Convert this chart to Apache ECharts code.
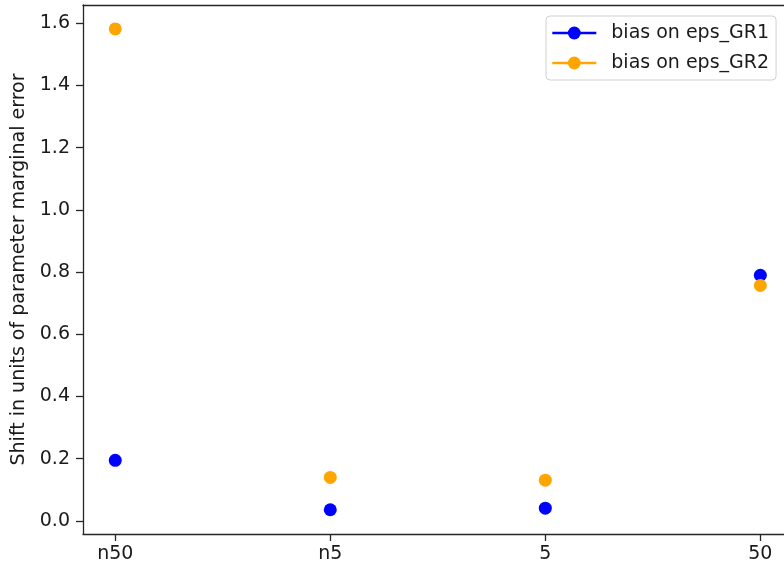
<!DOCTYPE html>
<html>
<head>
<meta charset="utf-8">
<script src="https://cdn.jsdelivr.net/npm/echarts@6/dist/echarts.min.js"></script>
<style>
  html, body { margin: 0; padding: 0; background: #ffffff; }
  #chart { width: 784px; height: 568px; }
</style>
</head>
<body>
<div id="chart"></div>
<script>
// Offset categories along the x axis
const categories = ['n50', 'n5', '5', '50'];
// Bias per category, in units of the parameter's marginal error
const biasGR1 = [0.195, 0.036, 0.041, 0.79];
const biasGR2 = [1.582, 0.140, 0.131, 0.757];
// Y tick positions
const yTicks = [0.0, 0.2, 0.4, 0.6, 0.8, 1.0, 1.2, 1.4, 1.6];

const FONT = 'DejaVu Sans';
const INK = '#1a1a1a';
const SPINE = { color: '#262626', width: 1.3 };

function pairs(values) {
  return values.map((v, i) => [i, v]);
}

const chart = echarts.init(document.getElementById('chart'), null, { renderer: 'canvas' });

chart.setOption({
  backgroundColor: '#ffffff',
  animation: false,
  grid: {
    // the plot window is cut at the right edge of the canvas, so no right spine
    left: 83, top: 5, right: 0, bottom: 34,
    show: false
  },
  legend: {
    orient: 'vertical',
    left: 546, top: 16,
    padding: [6, 7, 6, 5],
    itemWidth: 44, itemHeight: 16, itemGap: 8,
    backgroundColor: '#ffffff',
    borderColor: '#d0d0d0', borderWidth: 1, borderRadius: 4,
    lineStyle: { width: 2.6, opacity: 1 },
    textStyle: { fontFamily: FONT, fontSize: 19, color: INK, lineHeight: 22, padding: [0, 0, 0, 10] },
    data: ['bias on eps_GR1', 'bias on eps_GR2']
  },
  xAxis: [
    {
      type: 'value',
      position: 'bottom',
      min: -0.15, max: 3.11,
      splitLine: { show: false },
      axisLine: { show: true, onZero: false, lineStyle: SPINE },
      axisTick: { show: true, length: 7, customValues: [0, 1, 2, 3], lineStyle: SPINE },
      axisLabel: {
        customValues: [0, 1, 2, 3],
        margin: 11,
        fontFamily: FONT, fontSize: 19, color: INK,
        formatter: v => categories[Math.round(v)]
      }
    },
    {
      // top spine only
      type: 'value',
      position: 'top',
      min: -0.15, max: 3.11,
      splitLine: { show: false },
      axisLine: { show: true, onZero: false, lineStyle: SPINE },
      axisTick: { show: false },
      axisLabel: { show: false }
    }
  ],
  yAxis: {
    type: 'value',
    min: -0.042, max: 1.659,
    name: 'Shift in units of parameter marginal error',
    nameLocation: 'middle',
    nameGap: 52,
    nameTextStyle: { fontFamily: FONT, fontSize: 19, color: INK },
    splitLine: { show: false },
    axisLine: { show: true, onZero: false, lineStyle: SPINE },
    axisTick: { show: true, length: 7, customValues: yTicks, lineStyle: SPINE },
    axisLabel: {
      customValues: yTicks,
      margin: 13,
      fontFamily: FONT, fontSize: 19, color: INK,
      formatter: v => v.toFixed(1)
    }
  },
  series: [
    {
      name: 'bias on eps_GR1',
      type: 'line',
      data: pairs(biasGR1),
      symbol: 'circle', symbolSize: 13,
      showAllSymbol: true,
      lineStyle: { opacity: 0 },
      itemStyle: { color: '#0000ff' },
      z: 3
    },
    {
      name: 'bias on eps_GR2',
      type: 'line',
      data: pairs(biasGR2),
      symbol: 'circle', symbolSize: 13,
      showAllSymbol: true,
      lineStyle: { opacity: 0 },
      itemStyle: { color: '#ffa500' },
      z: 4
    }
  ]
});
</script>
</body>
</html>
